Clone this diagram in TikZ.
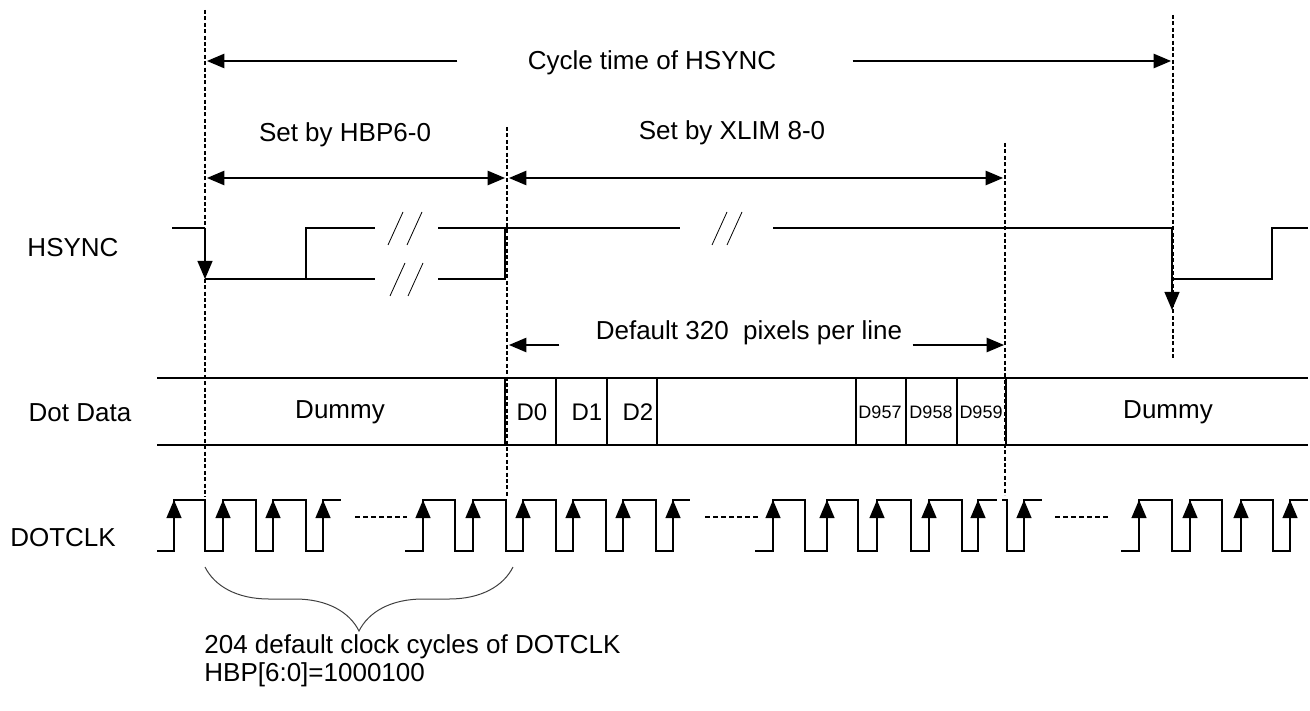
\documentclass[tikz,border=0pt]{standalone}
\usepackage{fontspec}
\setmainfont{Liberation Sans}
\usetikzlibrary{arrows}
\usetikzlibrary{decorations.pathreplacing}

\begin{document}
\begin{tikzpicture}[line join=miter,>=triangle 45,x=0.5pt,y=-0.5pt,
  sig/.style={line width=0.6pt},
  edge/.style={line width=1.1pt,->},
  guide/.style={line width=0.65pt,dash pattern=on 2pt off 1.2pt},
  dim/.style={line width=1pt},
  lbl/.style={font=\fontsize{13}{14}\selectfont,inner sep=0pt},
  cell/.style={font=\fontsize{12}{13}\selectfont,inner sep=0pt},
  small/.style={font=\fontsize{9}{10}\selectfont,inner sep=0pt}]
\useasboundingbox (0,0) rectangle (1310,711);

% guide lines
\draw [guide] (205,10) -- (205,497);
\draw [guide] (507,127) -- (507,497);
\draw [guide] (1005,143) -- (1005,495);
\draw [guide] (1173,15) -- (1173,360);

% labels
\node [lbl] (hsync) at (73,248) {HSYNC};
\node [lbl] (dotdata) at (80,413) {Dot Data};
\node [lbl] (dotclk) at (63,538) {DOTCLK};
\node [lbl] (cyc) at (652,63) {Cycle time of HSYNC};
\node [lbl] (hbp) at (345,135) {Set by HBP6-0};
\node [lbl] (xlim) at (732,133) {Set by XLIM 8-0};
\node [lbl] (pix) at (749,333) {Default 320 \ pixels per line};

% dimension arrows
\coordinate (cycL) at (207,61);
\coordinate (cycR) at (1171,61);
\coordinate (hbpL) at (207,178);
\coordinate (hbpR) at (505,178);
\coordinate (xlimL) at (509,178);
\coordinate (xlimR) at (1003,178);
\coordinate (pixL) at (509,345);
\coordinate (pixR) at (1004,345);
\draw [dim,->] ([xshift=-35pt]cyc.west |- cycL) -- (cycL);
\draw [dim,->] ([xshift=38pt]cyc.east |- cycR) -- (cycR);
\draw [dim,<->] (hbpL) -- (hbpR);
\draw [dim,<->] (xlimL) -- (xlimR);
\draw [dim,->] ([xshift=-18pt]pix.west |- pixL) -- (pixL);
\draw [dim,->] ([xshift=5pt]pix.east |- pixR) -- (pixR);

% HSYNC
\draw [sig] (172,228) -- (205,228);
\draw [edge] (205,228) -- (205,279);
\draw [sig] (205,279) -- (375,279) (306,279) -- (306,228) -- (375,228);
\draw [sig] (438,279) -- (505,279) -- (505,228) (438,228) -- (680,228) (773,228) -- (1172,228);
\draw [edge] (1172,228) -- (1172,310);
\draw [sig] (1172,279) -- (1272,279) -- (1272,228) -- (1308,228);
\foreach \x/\y in {388/245,407/245,390/296,408/296,712/245,727/245}
  \draw [line width=0.4pt] (\x,\y) -- ++(15,-33);

% Dot Data
\draw [sig] (157,378) -- (1308,378) (157,445) -- (1308,445);
\foreach \x in {505,556,607,657,856,906,957,1006}
  \draw [sig] (\x,378) -- (\x,445);
\node [lbl] (dumA) at (340,412) {Dummy};
\node [cell] (d0) at (532,412) {D0};
\node [cell] (d1) at (587,412) {D1};
\node [cell] (d2) at (638,412) {D2};
\node [small] (d957) at (880,412) {D957};
\node [small] (d958) at (931,412) {D958};
\node [small] (d959) at (981,412) {D959};
\node [lbl] (dumB) at (1168,412) {Dummy};

% DOTCLK
\draw [sig] (157,551) foreach \r/\f in {174/205,223/256,273/306}
  {-- (\r,551) -- (\r,500) -- (\f,500) -- (\f,551)} -- (323,551) -- (323,500) -- (341,500);
\draw [sig] (405,551) foreach \r/\f in {423/455,473/506,523/556,573/606,623/656}
  {-- (\r,551) -- (\r,500) -- (\f,500) -- (\f,551)} -- (673,551) -- (673,500) -- (690,500);
\draw [sig] (755,551) foreach \r/\f in {773/805,827/858,877/911,929/962}
  {-- (\r,551) -- (\r,500) -- (\f,500) -- (\f,551)} -- (978,551) -- (978,500) -- (997,500);
\draw [sig] (1002,500) -- (1007,500) -- (1007,551) -- (1024,551) -- (1024,500) -- (1042,500);
\draw [sig] (1121,551) foreach \r/\f in {1139/1172,1190/1222,1241/1273}
  {-- (\r,551) -- (\r,500) -- (\f,500) -- (\f,551)} -- (1290,551) -- (1290,500) -- (1308,500);
\foreach \r in {174,223,273,323,423,473,523,573,623,673,773,827,877,929,978,1024,1139,1190,1241,1290}
  \draw [edge] (\r,551) -- (\r,500);
\foreach \a/\b in {355/407,705/758,1055/1108}
  \draw [sig,dash pattern=on 2.5pt off 1.5pt] (\a,517) -- (\b,517);

% brace
\draw [line width=0.5pt,black!75,decorate,decoration={brace,amplitude=32pt}] (513,567) -- (205,567);
\node [lbl,anchor=west,align=left] (note) at (204,661) {204 default clock cycles of DOTCLK\\HBP[6:0]=1000100};
\end{tikzpicture}
\end{document}
